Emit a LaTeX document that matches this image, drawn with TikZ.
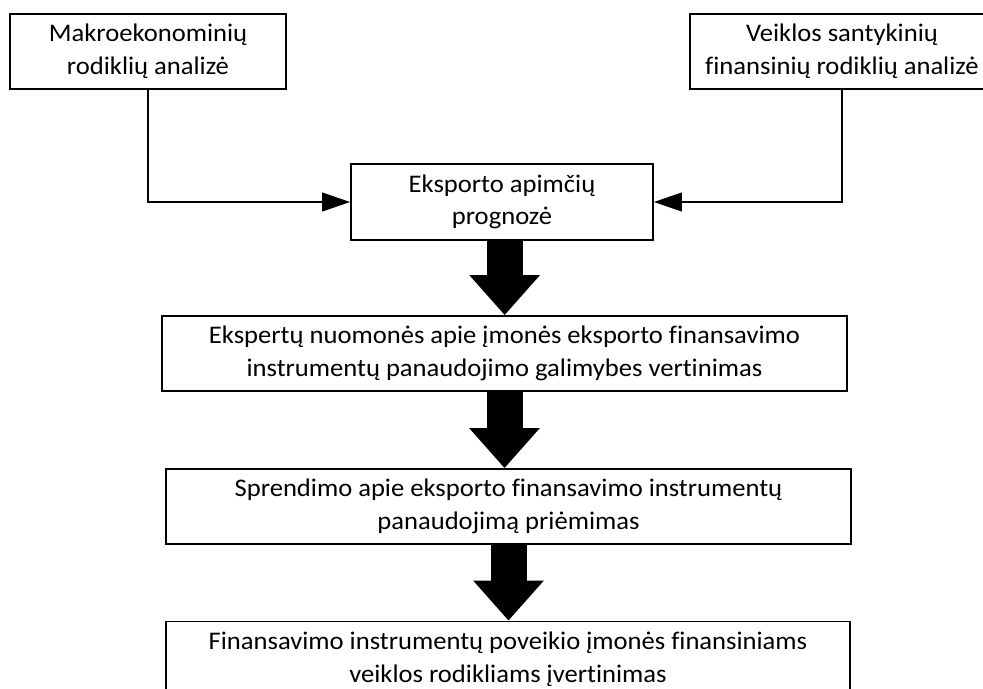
\documentclass[tikz,border=0pt]{standalone}
\usepackage{fontspec}
\setmainfont{Carlito}[Ligatures=NoCommon, FakeStretch=1.05]
\usetikzlibrary{arrows.meta}
\begin{document}
\begin{tikzpicture}[x=0.75pt,y=-0.75pt,
  box/.style={draw, line width=1.3pt, align=center, inner sep=0pt,
    minimum height=56.25pt, font=\fontsize{19}{24.5}\selectfont},
  feed/.style={line width=1.5pt, -{Triangle[width=14pt,length=21pt]}},
  flow/.style={line width=27pt, -{Triangle[width=51pt,length=30pt]}}]
\useasboundingbox (0,0) rectangle (983,689);
\clip (0,0) rectangle (983,689);

% input analyses
\node[box, minimum width=207pt] (makro) at (148,51.5)
  {Makroekonominių\\rodiklių analizė};
\node[box, minimum width=228pt] (veikla) at (842,51.5)
  {Veiklos santykinių\\finansinių rodiklių analizė};

% main sequence
\node[box, minimum width=226.5pt, minimum height=57pt] (eksp) at (502,202)
  {Eksporto apimčių\\prognozė};
\node[box, minimum width=513.75pt] (ekspertu) at (504.5,353.5)
  {Ekspertų nuomonės apie įmonės eksporto finansavimo\\instrumentų panaudojimo galimybes vertinimas};
\node[box, minimum width=513.75pt] (sprend) at (508.5,506.5)
  {Sprendimo apie eksporto finansavimo instrumentų\\panaudojimą priėmimas};
\node[box, minimum width=513pt] (finans) at (508,659)
  {Finansavimo instrumentų poveikio įmonės finansiniams\\veiklos rodikliams įvertinimas};

% feeding connectors
\draw[feed] (makro.south) |- (eksp.west);
\draw[feed] (veikla.south) |- (eksp.east);

% block arrows
\draw[flow] ([xshift=2pt]eksp.south) -- ([xshift=2pt]eksp.south |- ekspertu.north);
\draw[flow] (ekspertu.south) -- (ekspertu.south |- sprend.north);
\draw[flow] (sprend.south) -- (sprend.south |- finans.north);
\end{tikzpicture}
\end{document}
